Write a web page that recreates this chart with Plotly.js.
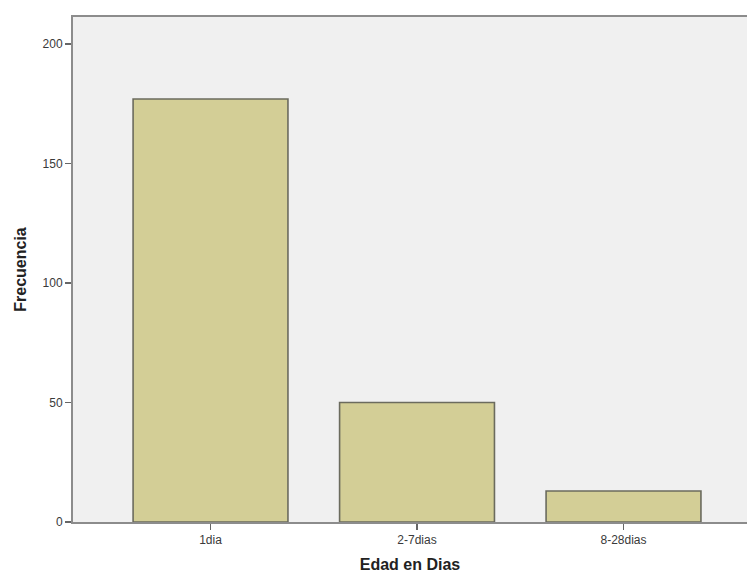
<!DOCTYPE html>
<html>
<head>
<meta charset="utf-8">
<script src="https://cdn.plot.ly/plotly-3.0.1.min.js"></script>
<style>html,body{margin:0;padding:0;background:#fff;}#chart{width:747px;height:576px;}</style>
</head>
<body>
<div id="chart"></div>
<script>
const categories = ["1dia", "2-7dias", "8-28dias"];
const frecuencia = [177, 50, 13];
const yTicks = [0, 50, 100, 150, 200];

const trace = {
  type: "bar",
  x: categories,
  y: frecuencia,
  width: 0.75,
  marker: {color: "#d3ce96", line: {color: "#6b6b5e", width: 1.6}},
  hoverinfo: "x+y"
};

const layout = {
  width: 747, height: 576,
  margin: {l: 73, r: 0, t: 17, b: 54},
  paper_bgcolor: "#ffffff",
  plot_bgcolor: "#f0f0f0",
  showlegend: false,
  font: {family: "Liberation Sans, Arial, sans-serif", color: "#333333", size: 12},
  xaxis: {
    type: "category",
    range: [-0.666, 2.598],
    showline: true, linecolor: "#8c8c8c", linewidth: 2, mirror: true,
    ticks: "outside", ticklen: 6, tickcolor: "#666666", tickwidth: 1.5,
    showgrid: false, zeroline: false,
    tickfont: {size: 12, color: "#3a3a3a"},
    title: {text: "Edad en Dias", font: {size: 16, color: "#222222", family: "Liberation Sans, Arial, sans-serif", weight: "bold"}, standoff: 12}
  },
  yaxis: {
    range: [0, 211.3],
    tickvals: yTicks,
    ticktext: yTicks.map(String),
    showline: true, linecolor: "#8c8c8c", linewidth: 2,
    ticks: "outside", ticklen: 6, tickcolor: "#666666", tickwidth: 1.5,
    showgrid: false, zeroline: false,
    tickfont: {size: 12, color: "#3a3a3a"},
    title: {text: "Frecuencia", font: {size: 16, color: "#222222", family: "Liberation Sans, Arial, sans-serif", weight: "bold"}, standoff: 12}
  },
  bargap: 0.25
};

Plotly.newPlot("chart", [trace], layout, {displayModeBar: false, staticPlot: true});
</script>
</body>
</html>
